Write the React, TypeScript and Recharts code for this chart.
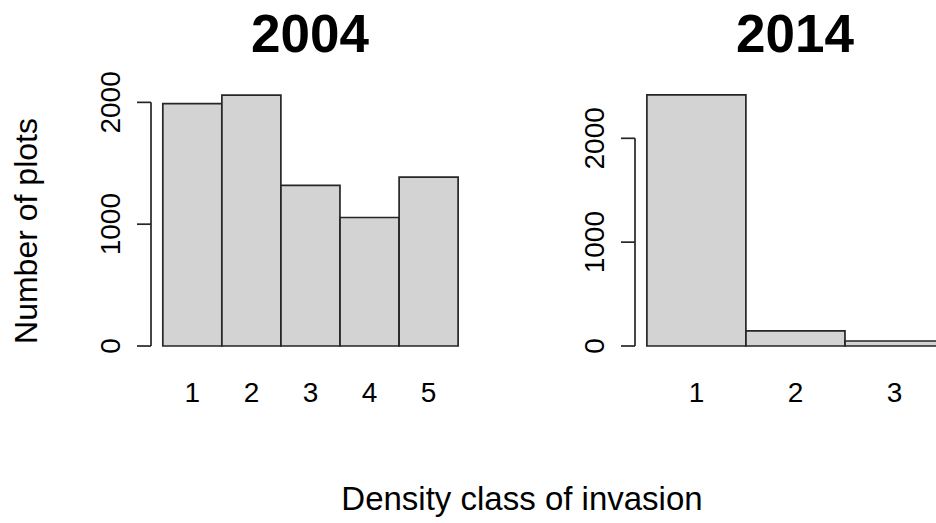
import { Bar, BarChart, ReferenceLine, XAxis, YAxis } from "recharts"

const classes2004 = [1, 2, 3, 4, 5]
const plots2004 = [1990, 2060, 1318, 1055, 1386]
const classes2014 = [1, 2, 3]
const plots2014 = [2418, 145, 48]
const yTicks = [0, 1000, 2000]

const font = "'Liberation Sans', Arial, sans-serif"
const ink = "#262626"

const data2004 = classes2004.map((c, i) => ({ cls: c, plots: plots2004[i] }))
const data2014 = classes2014.map((c, i) => ({ cls: c, plots: plots2014[i] }))

function YTick(props: any) {
    const { x, y, payload } = props
    return (
        <text
            x={x}
            y={y}
            transform={`rotate(-90, ${x}, ${y})`}
            textAnchor="middle"
            fontSize={28}
            fontFamily={font}
            fill="#000"
        >
            {payload.value}
        </text>
    )
}

function Panel({ data, domain, yMax, width, margin }: any) {
    return (
        <BarChart width={width} height={523} data={data} margin={margin} barCategoryGap={0}>
            <XAxis
                dataKey="cls"
                type="number"
                domain={domain}
                ticks={data.map((d: any) => d.cls)}
                interval={0}
                axisLine={false}
                tickLine={false}
                tickMargin={30}
                height={50}
                tick={{ fontSize: 28, fontFamily: font, fill: "#000" }}
            />
            <YAxis
                domain={[0, yMax]}
                ticks={yTicks}
                interval={0}
                width={60}
                axisLine={false}
                tickSize={14}
                tickMargin={17}
                tickLine={{ stroke: ink, strokeWidth: 1.7 }}
                tick={<YTick />}
            />
            <ReferenceLine
                segment={[
                    { x: domain[0], y: 0 },
                    { x: domain[0], y: 2000 },
                ]}
                stroke={ink}
                strokeWidth={1.7}
                ifOverflow="visible"
            />
            <Bar dataKey="plots" fill="#d3d3d3" stroke={ink} strokeWidth={1.7} isAnimationActive={false} />
        </BarChart>
    )
}

export default function App() {
    return (
        <div
            style={{
                position: "absolute",
                left: 0,
                top: 0,
                width: 936,
                height: 523,
                overflow: "hidden",
                background: "#fff",
            }}
        >
            <div style={{ position: "absolute", left: 0, top: 0 }}>
                <Panel
                    data={data2004}
                    domain={[0.3, 5.7]}
                    yMax={2200}
                    width={480}
                    margin={{ top: 78, right: 10, bottom: 127, left: 91 }}
                />
            </div>
            <div style={{ position: "absolute", left: 480, top: 0 }}>
                <Panel
                    data={data2014}
                    domain={[0.38, 3.62]}
                    yMax={2600}
                    width={520}
                    margin={{ top: 76, right: 44, bottom: 127, left: 95 }}
                />
            </div>
            <svg
                width={936}
                height={523}
                style={{ position: "absolute", left: 0, top: 0, pointerEvents: "none" }}
                fontFamily={font}
            >
                <text x={310} y={52} textAnchor="middle" fontSize={53} fontWeight="bold" fill="#000">
                    2004
                </text>
                <text x={795} y={52} textAnchor="middle" fontSize={53} fontWeight="bold" fill="#000">
                    2014
                </text>
                <text
                    x={37}
                    y={231}
                    transform="rotate(-90, 37, 231)"
                    textAnchor="middle"
                    fontSize={32}
                    fill="#000"
                >
                    Number of plots
                </text>
                <text x={522} y={510} textAnchor="middle" fontSize={33} fill="#000">
                    Density class of invasion
                </text>
            </svg>
        </div>
    )
}
